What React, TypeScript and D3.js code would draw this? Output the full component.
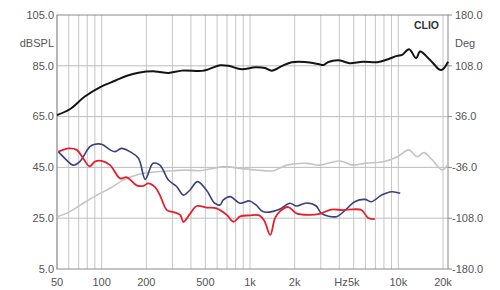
import React from "react";
import * as d3 from "d3";

// frequency (Hz) / level (dB) pairs
const blackFreq = [50, 61, 77, 100, 123, 148, 177, 229, 282, 347, 473, 524, 628, 715, 880, 1082, 1264, 1402, 1637, 1911, 2350, 2890, 3123, 3375, 3943, 4375, 4727, 5785, 7190, 8530, 9810, 10600, 11820, 13180, 14020, 16370, 19420, 21650];
const blackDb = [65.6, 67.9, 72.9, 76.9, 79.1, 81.1, 82.3, 82.8, 82.2, 83.1, 83.0, 83.6, 85.2, 85.0, 83.6, 84.4, 84.1, 83.1, 84.9, 86.4, 86.5, 85.7, 85.3, 86.5, 87.2, 86.5, 86.0, 86.6, 86.4, 87.6, 88.9, 89.3, 91.5, 88.0, 90.6, 87.3, 83.3, 86.6];

const greyFreq = [50, 61, 75, 93, 114, 140, 181, 235, 304, 374, 458, 563, 661, 859, 1098, 1437, 1768, 2402, 2947, 4027, 4955, 6100, 7918, 9783, 11760, 13410, 14880, 16960, 19800, 21650];
const greyDb = [25.5, 27.6, 30.9, 34.1, 36.8, 40.0, 42.4, 43.3, 43.7, 44.0, 43.7, 44.6, 45.3, 44.6, 44.0, 43.7, 45.9, 46.6, 45.9, 47.5, 45.9, 46.7, 47.2, 49.1, 51.9, 49.2, 50.8, 47.9, 44.0, 46.3];

const redFreq = [51, 60, 68, 75, 83, 90, 100, 114, 133, 148, 172, 191, 206, 229, 247, 275, 304, 338, 356, 394, 437, 508, 594, 697, 773, 859, 992, 1157, 1251, 1368, 1475, 1596, 1811, 2058, 2462, 2947, 3528, 4240, 4955, 5645, 6260, 6943];
const redDb = [51.2, 52.5, 51.9, 48.6, 45.4, 47.3, 47.6, 45.9, 40.7, 41.1, 37.9, 37.7, 38.7, 37.2, 34.1, 28.2, 27.4, 26.3, 23.5, 26.7, 29.8, 29.2, 28.9, 26.3, 23.6, 25.7, 26.1, 26.1, 23.9, 18.4, 25.0, 27.8, 29.4, 26.9, 26.3, 26.7, 28.4, 28.2, 28.5, 28.2, 25.1, 24.6];

const blueFreq = [51, 58, 64, 71, 83, 90, 100, 114, 123, 136, 155, 177, 197, 222, 247, 282, 321, 356, 394, 443, 508, 578, 628, 661, 734, 859, 992, 1098, 1219, 1353, 1596, 1858, 2058, 2402, 2800, 3024, 3823, 4353, 5085, 5944, 6594, 7713, 9032, 10300];
const blueDb = [51.2, 47.9, 45.9, 47.2, 53.1, 54.1, 54.1, 51.9, 51.2, 52.5, 51.2, 48.6, 40.3, 46.6, 45.9, 40.0, 37.4, 34.1, 36.1, 39.4, 36.1, 30.9, 30.2, 32.2, 33.5, 30.9, 31.8, 30.2, 27.6, 27.4, 28.6, 30.9, 29.8, 31.0, 29.8, 26.9, 25.6, 28.0, 31.5, 32.4, 31.5, 34.1, 35.4, 34.8];

const leftTicks = [105, 85, 65, 45, 25, 5];
const rightTicks = ["180.0", "108.0", "36.0", "-36.0", "-108.0", "-180.0"];
const freqLabels: [number, string][] = [[50, "50"], [100, "100"], [200, "200"], [500, "500"], [1000, "1k"], [2000, "2k"], [5000, "5k"], [10000, "10k"], [20000, "20k"]];

const series = [
  { f: greyFreq, v: greyDb, color: "#c4c4c4", w: 1.6 },
  { f: blueFreq, v: blueDb, color: "#3b3f7e", w: 1.6 },
  { f: redFreq, v: redDb, color: "#e3202b", w: 1.8 },
  { f: blackFreq, v: blackDb, color: "#141414", w: 2 },
];

const App: React.FC = () => {
  const left = 57, right = 448, top = 15, bottom = 269;
  const x = d3.scaleLog().domain([50, 20000]).range([left, 443]);
  const y = d3.scaleLinear().domain([5, 105]).range([bottom, top]);

  // vertical grid at 1..9 x decade
  const gridF: number[] = [];
  [10, 100, 1000, 10000].forEach((d) => {
    for (let k = 1; k <= 9; k++) {
      const f = d * k;
      if (f >= 50 && f <= 20000) gridF.push(f);
    }
  });

  const line = d3.line<[number, number]>()
    .x((d) => x(d[0]))
    .y((d) => y(d[1]))
    .curve(d3.curveCatmullRom.alpha(0.5));

  const font = "'Liberation Sans', Arial, sans-serif";

  return (
    <svg width={500} height={290} style={{ position: "absolute", left: 0, top: 0, background: "#fff" }} fontFamily={font}>
      {gridF.map((f) => (
        <line key={"v" + f} x1={x(f)} x2={x(f)} y1={top} y2={bottom} stroke="#c6c6c6" strokeWidth={1} />
      ))}
      {leftTicks.slice(1, -1).map((t) => (
        <line key={"h" + t} x1={left} x2={right} y1={y(t)} y2={y(t)} stroke="#bdbdbd" strokeWidth={1} />
      ))}
      <rect x={left} y={top} width={right - left} height={bottom - top} fill="none" stroke="#8a8a8a" strokeWidth={1} />

      {series.map((s, i) => (
        <path key={i} d={line(s.f.map((f, j) => [f, s.v[j]] as [number, number])) || ""} fill="none" stroke={s.color} strokeWidth={s.w} strokeLinejoin="round" />
      ))}

      {leftTicks.map((t) => (
        <text key={"l" + t} x={54} y={y(t)} dy="0.35em" textAnchor="end" fontSize={11} fill="#555">{t.toFixed(1)}</text>
      ))}
      <text x={54} y={43} dy="0.35em" textAnchor="end" fontSize={11} fill="#555">dBSPL</text>

      {rightTicks.map((t, i) => (
        <g key={"r" + t}>
          <line x1={right} x2={right + 4} y1={y(leftTicks[i])} y2={y(leftTicks[i])} stroke="#8a8a8a" />
          <text x={t.startsWith("-") ? 452 : 455} y={y(leftTicks[i])} dy="0.35em" fontSize={11} fill="#555">{t}</text>
        </g>
      ))}
      <text x={455} y={43} dy="0.35em" fontSize={11} fill="#555">Deg</text>

      {freqLabels.map(([f, l]) => (
        <text key={"x" + l} x={x(f)} y={286} textAnchor="middle" fontSize={11} fill="#555">{l}</text>
      ))}
      <text x={x(5000) - 6} y={286} textAnchor="end" fontSize={11} fill="#555">Hz</text>

      <text x={439} y={28.5} textAnchor="end" fontSize={10.5} fontWeight="bold" fill="#333">CLIO</text>
    </svg>
  );
};

export default App;
